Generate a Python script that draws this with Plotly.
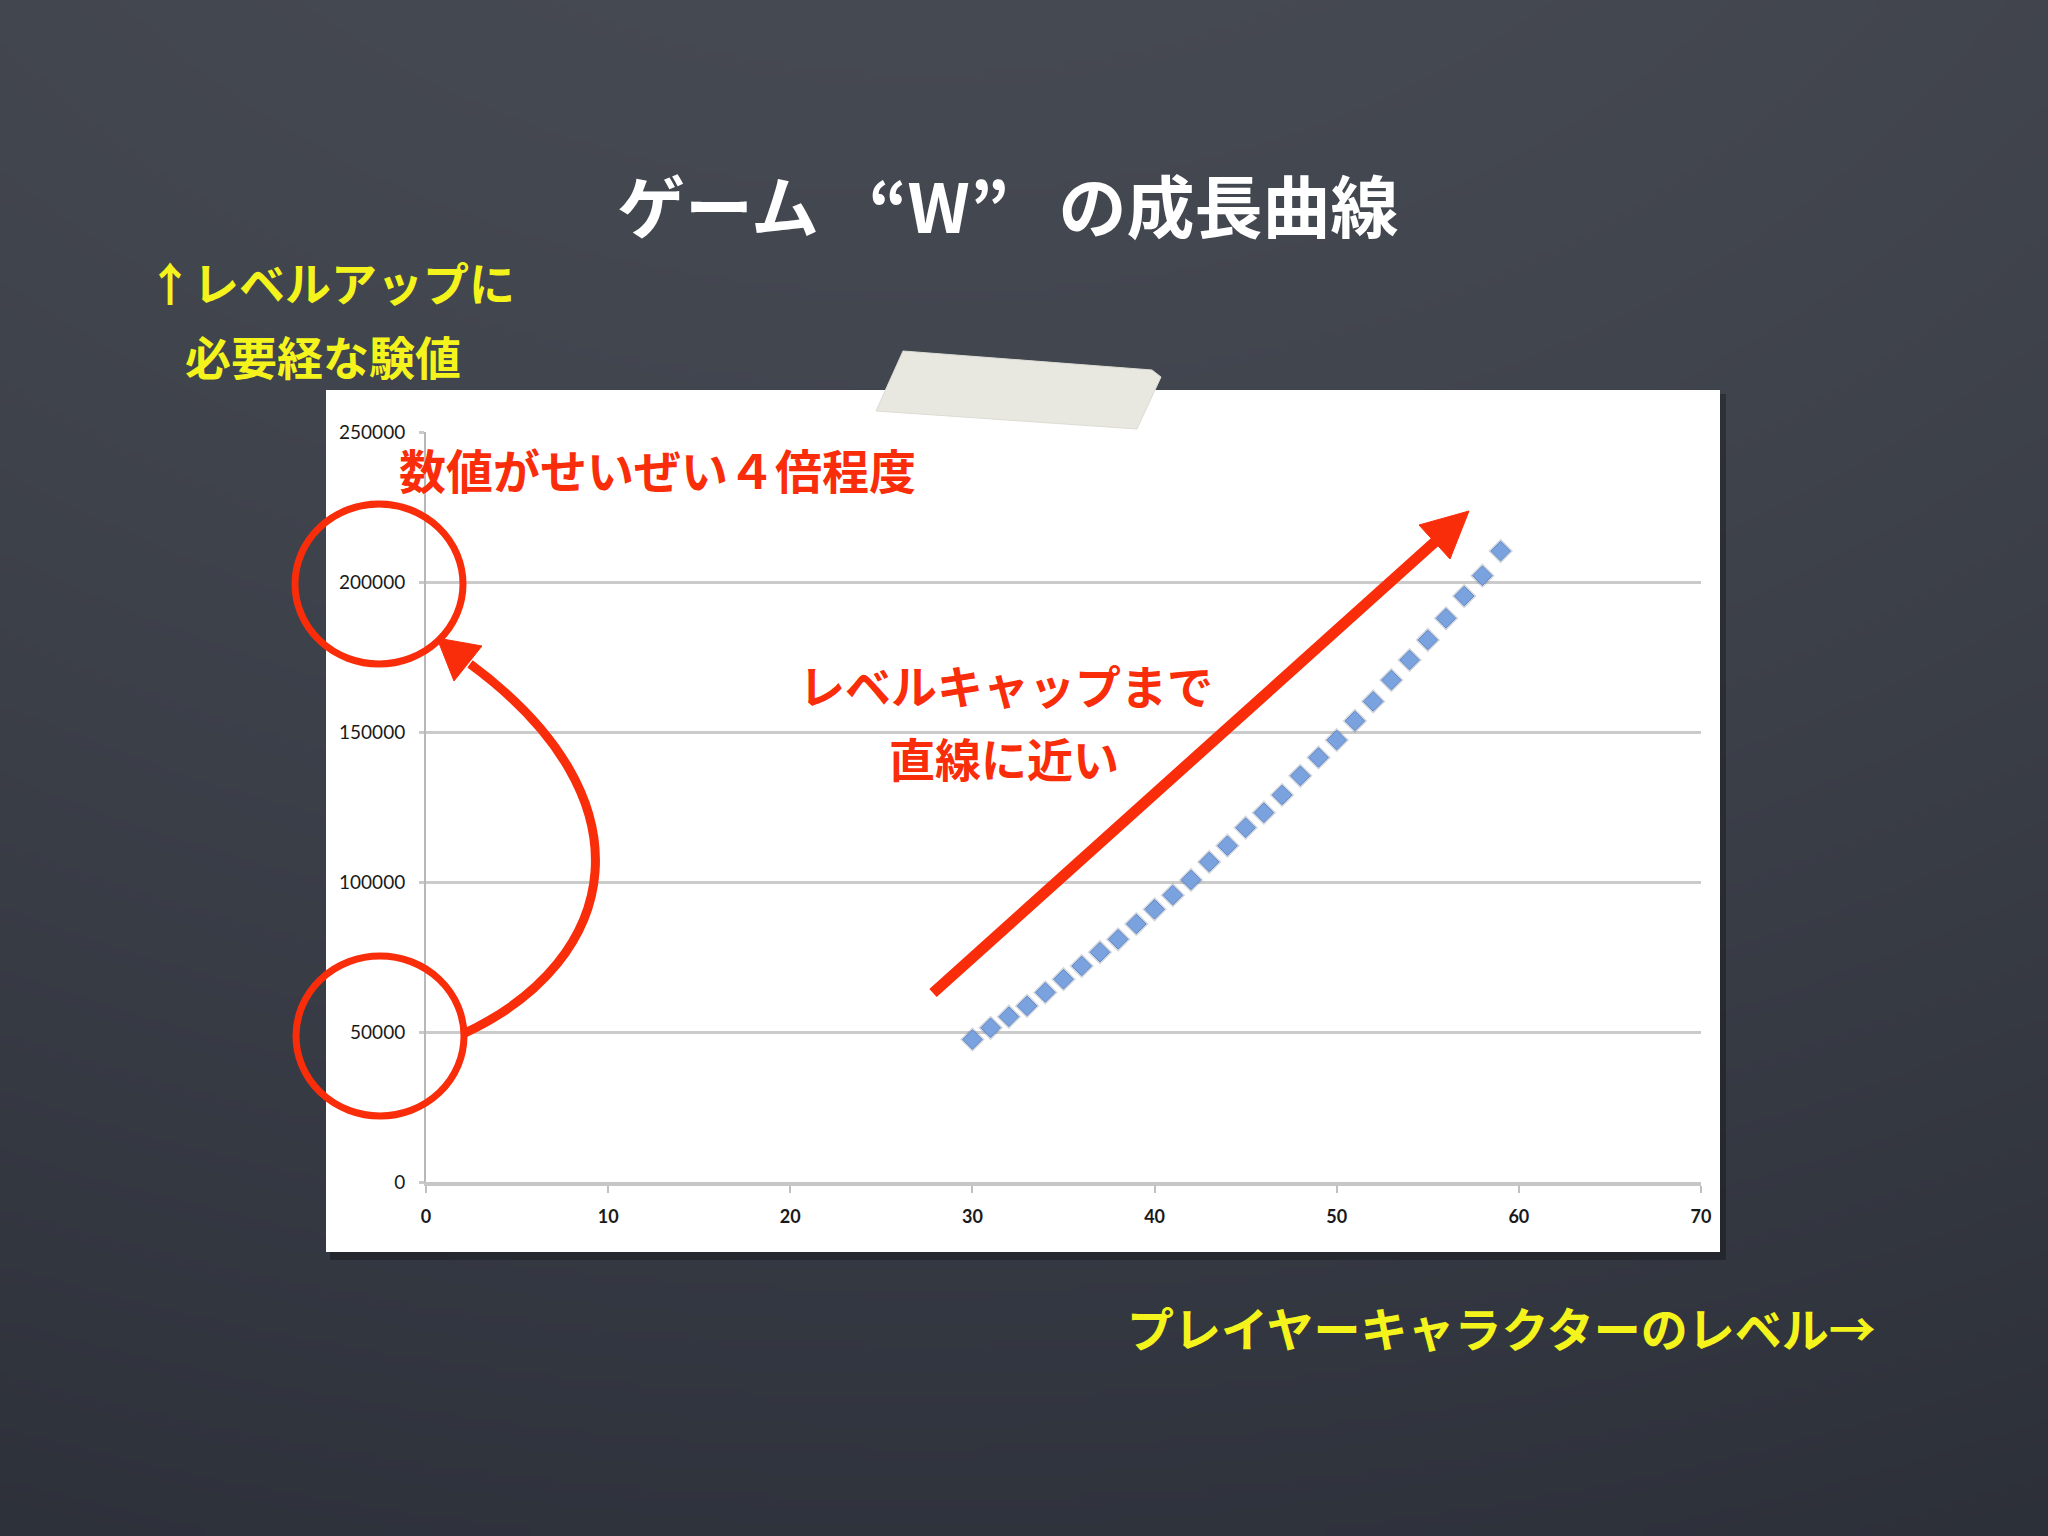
import zlib, struct, base64
import numpy as np
import plotly.graph_objects as go

# ---------------- data ----------------
levels = list(range(30, 60))
exp_required = [47500, 51400, 55100, 58700, 63200, 67600, 72000, 76600, 80900, 86000,
                90900, 95600, 100700, 106700, 112100, 118100, 123100, 129000, 135400, 141500,
                147300, 153700, 160200, 167300, 174000, 180700, 187900, 195300, 202100, 210300]
x_ticks = [0, 10, 20, 30, 40, 50, 60, 70]
y_ticks = [0, 50000, 100000, 150000, 200000, 250000]

title_text = "ゲーム\u2002 “W”\u2002 の成長曲線"
y_label_lines = ["↑レベルアップに", "必要経な験値"]
x_label_text = "プレイヤーキャラクターのレベル→"
note_top = "数値がせいぜい４倍程度"
note_mid = ["レベルキャップまで", "直線に近い"]

# ---------------- geometry (pixels in 2048x1536 canvas) ----------------
W, H = 2048, 1536
PL, PR, PT, PB = 426, 1701, 432, 1182  # plot area


def px(x):
    return (x - PL) / (PR - PL)


def py(y):
    return (PB - y) / (PB - PT)


def pt(x, y):
    return f"{px(x):.5f},{py(y):.5f}"


# ---------------- chalkboard background image ----------------
def png_uri(arr):
    h, w, _ = arr.shape
    raw = b"".join(b"\x00" + arr[i].tobytes() for i in range(h))

    def chunk(t, d):
        return struct.pack(">I", len(d)) + t + d + struct.pack(">I", zlib.crc32(t + d) & 0xffffffff)

    png = (b"\x89PNG\r\n\x1a\n" + chunk(b"IHDR", struct.pack(">IIBBBBB", w, h, 8, 2, 0, 0, 0))
           + chunk(b"IDAT", zlib.compress(raw, 9)) + chunk(b"IEND", b""))
    return "data:image/png;base64," + base64.b64encode(png).decode()


gw, gh = 256, 192
yy, xx = np.mgrid[0:gh, 0:gw]
t = yy / (gh - 1)
top = np.array([72, 76, 85], dtype=float)
bot = np.array([50, 54, 64], dtype=float)
base = top[None, None, :] * (1 - t[..., None]) + bot[None, None, :] * t[..., None]
r2 = ((xx / gw - 0.45) / 0.65) ** 2 + ((yy / gh - 0.45) / 0.75) ** 2
vig = np.clip(1.0 - 0.09 * r2, 0.85, 1.0)
bg = np.clip(base * vig[..., None], 0, 255).astype(np.uint8)
bg_uri = png_uri(bg)

# ---------------- figure ----------------
fig = go.Figure()
fig.add_trace(go.Scatter(
    x=levels, y=exp_required, mode="markers",
    marker=dict(symbol="diamond", size=19, color="rgba(110,120,140,0.30)", line=dict(width=0)),
    hoverinfo="skip", showlegend=False))
fig.add_trace(go.Scatter(
    x=levels, y=exp_required, mode="markers",
    marker=dict(symbol="diamond", size=15, color="#7aa2de", line=dict(color="#6089c8", width=1)),
    showlegend=False))

RED = "#fa2d0a"
YEL = "#f4f41c"
JP = "Noto Sans CJK JP"

shapes = []
# panel shadow + white panel
shapes.append(dict(type="rect", xref="paper", yref="paper", layer="below",
                   x0=px(330), x1=px(1726), y0=py(1260), y1=py(394),
                   fillcolor="rgba(0,0,0,0.28)", line=dict(width=0)))
shapes.append(dict(type="rect", xref="paper", yref="paper", layer="below",
                   x0=px(326), x1=px(1720), y0=py(1252), y1=py(390),
                   fillcolor="#ffffff", line=dict(width=0)))
# tape
tape = [(903, 351), (1152, 370), (1161, 377), (1137, 429), (876, 411)]
shapes.append(dict(type="path", xref="paper", yref="paper", layer="above",
                   path="M" + " L".join(pt(a, b) for a, b in tape) + " Z",
                   fillcolor="#e8e8e1", line=dict(color="#dcdcd4", width=1)))
# red ellipses
for cx, cy in [(379, 584), (380, 1036)]:
    shapes.append(dict(type="circle", xref="paper", yref="paper", layer="above",
                       x0=px(cx - 84), x1=px(cx + 84), y0=py(cy + 80), y1=py(cy - 80),
                       line=dict(color=RED, width=7)))
# curved arrow
shapes.append(dict(type="path", xref="paper", yref="paper", layer="above",
                   path=f"M{pt(465, 1033)} C{pt(620, 960)} {pt(655, 800)} {pt(470, 664)}",
                   line=dict(color=RED, width=9)))
shapes.append(dict(type="path", xref="paper", yref="paper", layer="above",
                   path=f"M{pt(437, 638)} L{pt(482, 646)} L{pt(454, 681)} Z",
                   fillcolor=RED, line=dict(color=RED, width=1)))
# straight arrow
shapes.append(dict(type="line", xref="paper", yref="paper", layer="above",
                   x0=px(933), y0=py(993), x1=px(1437), y1=py(540),
                   line=dict(color=RED, width=11)))
shapes.append(dict(type="path", xref="paper", yref="paper", layer="above",
                   path=f"M{pt(1469, 511)} L{pt(1450, 559)} L{pt(1419, 525)} Z",
                   fillcolor=RED, line=dict(color=RED, width=1)))

annotations = []


def add_text(text, x, y, size, color, anchor="center"):
    annotations.append(dict(text=text, x=px(x), y=py(y), xref="paper", yref="paper",
                            xanchor=anchor, yanchor="middle", showarrow=False,
                            font=dict(family=JP, size=size, color=color, weight="bold")))


add_text(title_text, 1008, 203, 68, "#ffffff")
add_text(y_label_lines[0], 331, 281, 46, YEL)
add_text(y_label_lines[1], 323, 355, 46, YEL)
add_text(x_label_text, 1501, 1326, 47, YEL)
add_text(note_top, 657, 468, 47, RED)
add_text(note_mid[0], 1006, 684, 46, RED)
add_text(note_mid[1], 1004, 757, 46, RED)

fig.update_layout(
    width=W, height=H, autosize=False,
    margin=dict(l=PL, r=W - PR, t=PT, b=H - PB, pad=0),
    paper_bgcolor="#3b3f47", plot_bgcolor="rgba(0,0,0,0)",
    images=[dict(source=bg_uri, xref="paper", yref="paper", layer="below",
                 x=px(0), y=py(0), sizex=px(W) - px(0), sizey=py(0) - py(H),
                 xanchor="left", yanchor="top", sizing="stretch")],
    shapes=shapes, annotations=annotations,
    xaxis=dict(range=[0, 70], tickvals=x_ticks, showgrid=False, zeroline=False,
               showline=True, linecolor="#c6c6c6", linewidth=4,
               ticks="outside", ticklen=7, tickwidth=2, tickcolor="#c0c0c0",
               tickfont=dict(family="Lato", size=18, color="#1a1a1a", weight="bold"),
               ticklabelstandoff=8),
    yaxis=dict(range=[0, 250000], tickvals=y_ticks, tickformat="d", showgrid=True,
               gridcolor="#cbcbcb", gridwidth=3, zeroline=False,
               showline=True, linecolor="#b8b8b8", linewidth=2,
               ticks="outside", ticklen=5, tickwidth=3, tickcolor="#cbcbcb",
               tickfont=dict(family="Lato", size=19, color="#1a1a1a"), ticklabelstandoff=10),
    hovermode=False,
)

fig.write_html("out.html", config={"displayModeBar": False},
               post_script="document.body.style.margin='0';document.body.style.background='#3b3f47';")
